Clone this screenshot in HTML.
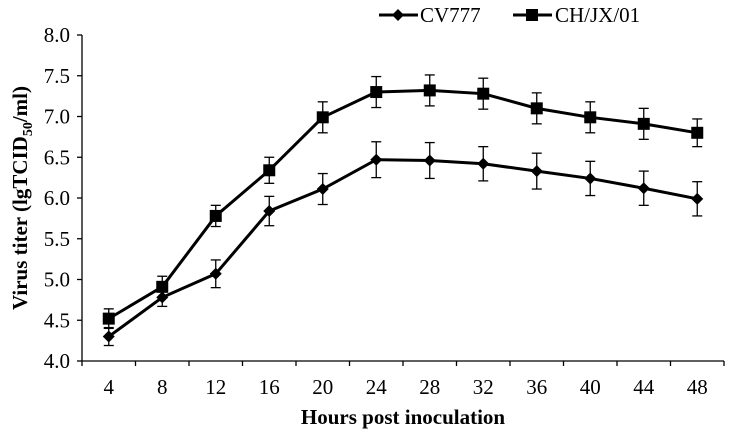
<!DOCTYPE html>
<html><head><meta charset="utf-8"><style>
body{margin:0;background:#fff;}
svg{display:block;font-family:"Liberation Serif",serif;}
</style></head><body>
<svg id="chart" width="730" height="432" viewBox="0 0 730 432">
<g id="axes"></g><g id="series"></g>
<g>
 <g>
  <line x1="379" y1="15" x2="418" y2="15" stroke="#000" stroke-width="3"/>
  <polygon points="398,9 404,15 398,21 392,15" fill="#000"/>
  <text x="420" y="22" font-size="21">CV777</text>
 </g>
 <g>
  <line x1="513" y1="15" x2="552" y2="15" stroke="#000" stroke-width="3"/>
  <rect x="526" y="9" width="12" height="12" fill="#000"/>
  <text x="555" y="22" font-size="21">CH/JX/01</text>
 </g>
</g>
<text x="27" y="198" font-size="21" font-weight="bold" text-anchor="middle" transform="rotate(-90 27 198)">Virus titer (lgTCID<tspan font-size="14" dy="5">50</tspan><tspan dy="-5">/ml)</tspan></text>
<text x="403" y="424" font-size="21" font-weight="bold" text-anchor="middle">Hours post inoculation</text>
</svg>
<script>
const categories=[4,8,12,16,20,24,28,32,36,40,44,48];
const cv777=[4.30,4.78,5.07,5.84,6.11,6.47,6.46,6.42,6.33,6.24,6.12,5.99];
const cv777Err=[0.11,0.11,0.17,0.18,0.19,0.22,0.22,0.21,0.22,0.21,0.21,0.21];
const chjx=[4.52,4.91,5.78,6.34,6.99,7.30,7.32,7.28,7.10,6.99,6.91,6.80];
const chjxErr=[0.12,0.13,0.13,0.16,0.19,0.19,0.19,0.19,0.19,0.19,0.19,0.17];
const yTicks=[4.0,4.5,5.0,5.5,6.0,6.5,7.0,7.5,8.0];
const NS="http://www.w3.org/2000/svg";
const X0=82,X1=724,Y0=361,Y1=35,YMIN=4,YMAX=8;
const step=(X1-X0)/categories.length;
function xs(i){return X0+step*(i+0.5);}
function ys(v){return Y0-(v-YMIN)/(YMAX-YMIN)*(Y0-Y1);}
function mk(tag,attrs,parent){const e=document.createElementNS(NS,tag);for(const k in attrs)e.setAttribute(k,attrs[k]);parent.appendChild(e);return e;}
const ax=document.getElementById('axes');
let l=mk('line',{x1:X0,y1:Y1,x2:X0,y2:Y0,stroke:'#000','stroke-width':1.3},ax);


l=mk('line',{x1:X0,y1:Y0,x2:X1,y2:Y0,stroke:'#000','stroke-width':1.3},ax);


yTicks.forEach(v=>{
 mk('line',{x1:X0-5,y1:ys(v),x2:X0,y2:ys(v),stroke:'#000','stroke-width':1.3},ax);
 const t=mk('text',{x:X0-12,y:ys(v)+7,'font-size':21,'text-anchor':'end'},ax);
 t.textContent=v.toFixed(1);
 
 
});
for(let i=0;i<=categories.length;i++){mk('line',{x1:X0+step*i,y1:Y0,x2:X0+step*i,y2:Y0+5,stroke:'#000','stroke-width':1.3},ax);}
categories.forEach((c,i)=>{
 const t=mk('text',{x:xs(i),y:Y0+33,'font-size':21,'text-anchor':'middle'},ax);
 t.textContent=c;
 
 
});
const sg=document.getElementById('series');
function draw(vals,errs,shape,name){
 const g=mk('g',{},sg);
 
 
 vals.forEach((v,i)=>{
  const x=xs(i);
  mk('line',{x1:x,y1:ys(v+errs[i]),x2:x,y2:ys(v-errs[i]),stroke:'#000','stroke-width':1.3},g);
  mk('line',{x1:x-5,y1:ys(v+errs[i]),x2:x+5,y2:ys(v+errs[i]),stroke:'#000','stroke-width':1.3},g);
  mk('line',{x1:x-5,y1:ys(v-errs[i]),x2:x+5,y2:ys(v-errs[i]),stroke:'#000','stroke-width':1.3},g);
 });
 mk('polyline',{points:vals.map((v,i)=>xs(i)+','+ys(v)).join(' '),fill:'none',stroke:'#000','stroke-width':3},g);
 vals.forEach((v,i)=>{
  const x=xs(i),y=ys(v);let m;
  if(shape==='sq')m=mk('rect',{x:x-6,y:y-6,width:12,height:12,fill:'#000'},g);
  else m=mk('polygon',{points:`${x},${y-6} ${x+6},${y} ${x},${y+6} ${x-6},${y}`,fill:'#000'},g);
  
  
 });
}
draw(cv777,cv777Err,'dia','cv777');
draw(chjx,chjxErr,'sq','chjx01');
</script>
</body></html>
